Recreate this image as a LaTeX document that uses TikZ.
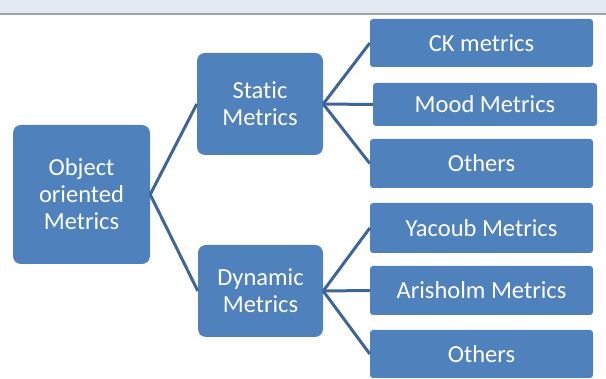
\documentclass[tikz,border=0pt]{standalone}
\usepackage{fontspec}
\setmainfont[Ligatures=NoCommon]{Carlito}
\usetikzlibrary{positioning}

\definecolor{boxblue}{HTML}{4F81BD}
\definecolor{linkblue}{HTML}{3D6595}
\definecolor{barfill}{HTML}{E4EAF2}
\definecolor{barline}{HTML}{A0A4A9}

\begin{document}
\begin{tikzpicture}[
  x=1pt, y=-1pt,
  box/.style={fill=boxblue, rounded corners=8pt, text=white, align=center, inner sep=0pt, font=\fontsize{24.5}{27}\selectfont},
  leaf/.style={box, rounded corners=3pt, minimum width=223pt, minimum height=48pt},
  link/.style={draw=linkblue, line width=3pt}
]
  \useasboundingbox (0,0) rectangle (606,379);
  \fill[barfill] (0,0) rectangle (606,13);
  \draw[barline, line width=2pt] (0,14) -- (606,14);

  \node[box, minimum width=137pt, minimum height=139pt] (oo) at (81.5,194.5) {Object\\oriented\\Metrics};
  \node[box, minimum width=126pt, minimum height=102pt] (static) at (260,104) {Static\\Metrics};
  \node[box, minimum width=125pt, minimum height=92pt] (dynamic) at (260.5,291) {Dynamic\\Metrics};

  \node[leaf] (ck) at (481.5,43) {CK metrics};
  \node[leaf, minimum width=224pt, minimum height=43pt] (mood) at (485,104.5) {Mood Metrics};
  \node[leaf, minimum height=49pt] (others1) at (481.5,163.5) {Others};
  \node[leaf, minimum height=50pt] (yacoub) at (481.5,228) {Yacoub Metrics};
  \node[leaf, minimum height=49pt] (arisholm) at (481.5,290.5) {Arisholm Metrics};
  \node[leaf] (others2) at (481.5,354) {Others};

  \draw[link] (oo.east) -- (static.west);
  \draw[link] (oo.east) -- (dynamic.west);
  \draw[link] (static.east) -- (ck.west);
  \draw[link] (static.east) -- (mood.west);
  \draw[link] (static.east) -- (others1.west);
  \draw[link] (dynamic.east) -- (yacoub.west);
  \draw[link] (dynamic.east) -- (arisholm.west);
  \draw[link] (dynamic.east) -- (others2.west);
\end{tikzpicture}
\end{document}
